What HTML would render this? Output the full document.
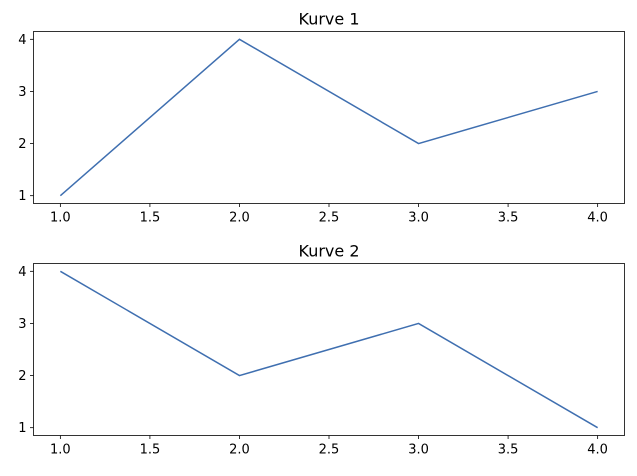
<!DOCTYPE html>
<html><head><meta charset="utf-8"><style>
body{margin:0;background:#fff;}
svg text{font-family:"DejaVu Sans","Liberation Sans",sans-serif;font-size:13px;fill:#000;}
</style></head><body>
<svg id="chart" width="637" height="471"></svg>
<script>
const xValues = [1, 2, 3, 4];
const series1 = [1, 4, 2, 3];
const series2 = [4, 2, 3, 1];
const titles = ["Kurve 1", "Kurve 2"];
const xTicks = [1.0, 1.5, 2.0, 2.5, 3.0, 3.5, 4.0];
const yTicks = [1, 2, 3, 4];

const svg = document.getElementById('chart');
const NS = 'http://www.w3.org/2000/svg';
function mk(tag, attrs, parent){const e=document.createElementNS(NS,tag);for(const k in attrs)e.setAttribute(k,attrs[k]);parent.appendChild(e);return e;}

const L=33.5,R=624.5;
const panels=[{top:31.5,bottom:203.5,data:series1},{top:263.5,bottom:435.5,data:series2}];
const xmin=0.85,xmax=4.15,ymin=0.85,ymax=4.15;
panels.forEach((p,i)=>{
  const g=mk('g',{},svg);
  
  
  const sx=v=>L+(v-xmin)/(xmax-xmin)*(R-L);
  const sy=v=>p.bottom-(v-ymin)/(ymax-ymin)*(p.bottom-p.top);
  const t=mk('text',{x:(L+R)/2,y:p.top-7,'text-anchor':'middle',style:'font-size:16px'},g);
  t.textContent=titles[i];
  
  
  xTicks.forEach(v=>{
    const x=sx(v);
    mk('line',{x1:x,x2:x,y1:p.bottom,y2:p.bottom+3.5,stroke:'#000','stroke-width':0.8},g);
    const tx=mk('text',{x:x,y:p.bottom+18,'text-anchor':'middle'},g);
    tx.textContent=v.toFixed(1);
    
    
  });
  yTicks.forEach(v=>{
    const y=sy(v);
    mk('line',{x1:L-3.5,x2:L,y1:y,y2:y,stroke:'#000','stroke-width':0.8},g);
    const ty=mk('text',{x:L-7,y:y+4.5,'text-anchor':'end'},g);
    ty.textContent=v;
    
    
  });
  const pts=xValues.map((x,j)=>sx(x)+','+sy(p.data[j])).join(' ');
  const line=mk('polyline',{points:pts,fill:'none',stroke:'#3f6fb0','stroke-width':1.5},g);
  
  
  const frame=mk('rect',{x:L,y:p.top,width:R-L,height:p.bottom-p.top,fill:'none',stroke:'#000','stroke-width':0.8},g);
  
  
});
</script>
</body></html>
